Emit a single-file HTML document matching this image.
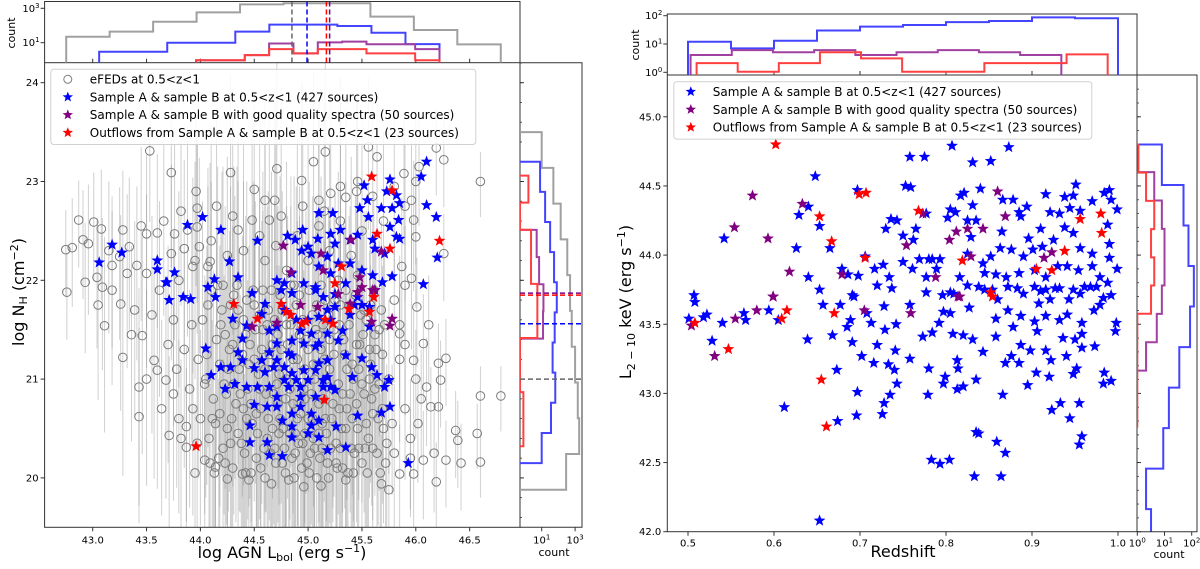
<!DOCTYPE html>
<html><head><meta charset="utf-8"><style>
body{margin:0;background:#fff}
svg{display:block;font-family:"DejaVu Sans","Liberation Sans",sans-serif}
</style></head><body>
<svg id="fig" width="1200" height="569" viewBox="0 0 1200 569" xmlns="http://www.w3.org/2000/svg">
<g id="g-left"></g>
<g id="g-right"></g>
</svg>
<script>
// ===== LEFT PANEL DATA =====
const grayPts = [
[44.02,21.6,1.2],[44.05,21.0,1.0],[44.08,20.4,0.9],[44.1,21.9,1.1],[44.12,20.8,1.3],[44.15,21.4,1.0],[44.17,20.2,0.8],[44.2,21.7,1.4],[44.22,20.95,1.1],[44.25,20.5,0.9],[44.27,21.3,1.2],[44.3,20.1,0.7],[44.31,21.85,1.3],[44.33,20.75,1.0],[44.36,21.1,1.2],[44.38,20.35,0.9],[44.4,21.6,1.4],[44.42,20.05,0.8],[44.44,20.9,1.1],[44.46,21.35,1.3],[44.48,20.55,1.0],[44.5,21.75,1.2],[44.52,20.2,0.9],[44.54,21.05,1.3],[44.56,20.7,1.0],[44.58,21.5,1.2],[44.6,20.0,0.8],[44.62,20.4,1.0],[44.64,21.25,1.4],[44.66,21.9,1.2],[44.68,20.85,1.1],[44.7,20.15,0.9],[44.72,21.45,1.3],[44.74,20.6,1.0],[44.76,21.7,1.2],[44.78,20.3,0.8],[44.8,21.0,1.3],[44.82,19.98,0.7],[44.84,21.55,1.2],[44.86,20.75,1.1],[44.88,20.45,1.0],[44.9,21.2,1.4],[44.92,21.85,1.1],[44.94,20.1,0.8],[44.96,20.9,1.2],[44.98,21.4,1.3],[45.0,20.6,1.0],[45.02,20.25,0.9],[45.04,21.65,1.2],[45.06,21.0,1.3],[45.08,20.0,0.8],[45.1,20.45,1.0],[45.12,21.3,1.2],[45.14,20.8,1.1],[45.16,21.8,1.0],[45.18,20.15,0.9],[45.2,21.1,1.3],[45.22,20.6,1.0],[45.24,21.5,1.2],[45.26,20.35,0.9],[45.28,20.95,1.1],[45.3,21.75,1.2],[45.32,20.1,0.8],[45.34,21.25,1.3],[45.36,20.7,1.0],[45.38,21.55,1.1],[45.4,20.3,0.9],[45.42,21.0,1.2],[45.44,21.85,1.0],[45.46,20.5,1.0],[45.48,21.35,1.1],[45.5,20.15,0.8],[45.52,20.85,1.0],[45.54,21.6,1.1],[45.56,20.4,0.9],[45.58,21.15,1.0],[45.6,20.65,0.9],[45.62,21.45,1.0],[45.64,20.25,0.8],[45.66,20.95,0.9],[45.68,21.7,0.9],[45.7,20.5,0.8],
[44.06,21.25,1.1],[44.11,20.6,1.0],[44.16,21.95,1.2],[44.21,20.3,0.9],[44.26,21.1,1.2],[44.32,21.55,1.3],[44.37,20.85,1.0],[44.41,20.25,0.8],[44.45,21.15,1.2],[44.49,21.9,1.1],[44.53,20.45,0.9],[44.57,21.3,1.3],[44.61,20.85,1.0],[44.65,20.25,0.8],[44.69,21.6,1.2],[44.73,21.05,1.1],[44.77,20.5,0.9],[44.81,21.35,1.3],[44.85,20.2,0.8],[44.89,21.75,1.2],[44.93,20.65,1.0],[44.97,21.1,1.3],[45.01,21.9,1.1],[45.05,20.4,0.9],[45.09,21.45,1.2],[45.13,20.55,1.0],[45.17,21.0,1.2],[45.21,20.3,0.9],[45.25,21.8,1.1],[45.29,20.7,1.0],[45.33,21.4,1.2],[45.37,20.05,0.8],[45.41,21.15,1.1],[45.45,20.75,1.0],[45.49,21.65,1.1],[45.53,20.3,0.9],[45.57,21.0,1.0],[45.61,21.9,1.0],[45.65,20.6,0.9],[45.69,21.25,0.9],[45.73,20.35,0.8],[45.75,21.0,0.8],
[44.13,20.05,0.8],[44.19,21.55,1.2],[44.24,20.85,1.1],[44.29,20.6,1.0],[44.34,21.95,1.2],[44.39,21.25,1.2],[44.43,20.6,1.0],[44.47,20.05,0.8],[44.51,21.5,1.3],[44.55,20.9,1.1],[44.59,20.3,0.9],[44.63,21.7,1.2],[44.67,20.5,1.0],[44.71,20.95,1.2],[44.75,21.3,1.3],[44.79,20.05,0.8],[44.83,20.9,1.1],[44.87,21.95,1.1],[44.91,20.35,0.9],[44.95,21.6,1.2],[44.99,20.15,0.8],[45.03,20.85,1.1],[45.07,21.5,1.2],[45.11,20.2,0.9],[45.15,21.2,1.2],[45.19,21.65,1.1],[45.23,20.9,1.0],[45.27,20.1,0.8],[45.31,20.5,1.0],[45.35,21.9,1.1],[45.39,20.85,1.0],[45.43,20.25,0.9],[45.47,21.1,1.1],[45.51,21.45,1.1],[45.55,20.05,0.8],[45.59,20.8,0.9],[45.63,21.3,1.0],[45.67,20.05,0.8],
[44.04,20.95,1.1],[44.07,21.75,1.2],[44.09,20.15,0.8],[44.14,20.55,1.0],[44.18,21.15,1.2],[44.23,21.45,1.3],[44.23,20.15,0.8],[44.28,20.35,0.9],[44.28,21.75,1.2],[44.31,20.95,1.1],[44.35,20.45,1.0],[44.35,21.7,1.3],[44.4,20.7,1.0],[44.42,21.45,1.2],[44.45,19.98,0.7],[44.47,20.75,1.0],[44.5,21.2,1.2],[44.52,20.65,1.0],[44.55,21.65,1.3],[44.56,20.1,0.8],[44.6,21.1,1.2],[44.62,21.55,1.2],[44.63,20.6,1.0],[44.67,21.35,1.3],[44.69,20.3,0.9],[44.72,20.75,1.0],[44.74,21.85,1.2],[44.76,20.15,0.8],[44.79,20.8,1.1],[44.8,21.55,1.2],[44.83,20.45,1.0],[44.86,21.2,1.3],[44.87,20.0,0.8],[44.9,20.6,1.0],[44.92,21.45,1.2],[44.95,20.35,0.9],[44.97,20.8,1.1],[45.0,21.3,1.2],[45.01,20.05,0.8],[45.04,20.6,1.0],[45.05,21.15,1.2],[45.08,21.75,1.1],[45.1,20.75,1.0],[45.13,20.3,0.9],[45.14,21.55,1.2],[45.17,20.45,1.0],[45.19,20.0,0.8],[45.2,21.4,1.2],[45.23,20.75,1.0],[45.24,21.25,1.2],[45.26,20.15,0.8],[45.29,21.55,1.1],[45.3,20.3,0.9],[45.32,20.85,1.0],[45.35,20.5,1.0],[45.36,21.1,1.1],[45.39,21.75,1.0],[45.41,20.6,1.0],[45.42,20.05,0.8],[45.45,21.35,1.1],[45.47,20.3,0.9],[45.5,20.95,1.0],[45.52,21.7,1.0],[45.54,20.55,0.9],[45.57,21.3,1.0],[45.6,20.3,0.8],[45.62,20.9,0.9],[45.66,21.5,0.9],[45.69,20.7,0.8],[45.71,21.55,0.8],[45.72,20.15,0.8],[44.18,20.65,1.0],[44.21,21.95,1.2],[44.3,21.35,1.2],[44.43,21.8,1.2],[44.58,21.9,1.2],[44.84,21.95,1.1],[45.12,21.95,1.1],[45.28,22.0,1.1],[45.46,22.05,1.0],[45.58,21.75,0.9],[44.97,20.45,0.9],[44.73,20.45,0.9],[44.88,20.25,0.8],[45.06,20.3,0.9],[45.16,20.6,1.0],
[44.6,22.2,1.2],[44.7,22.35,1.3],[44.8,22.1,1.1],[44.9,22.45,1.2],[45.0,22.2,1.3],[45.1,22.55,1.2],[45.2,22.3,1.1],[45.3,22.6,1.2],[45.4,22.25,1.0],[45.5,22.5,1.1],[45.6,22.85,1.0],[45.7,22.6,0.9],[45.8,22.95,0.8],[45.9,22.75,0.8],[46.0,23.0,0.7],[45.45,22.9,1.0],[45.3,22.95,1.1],[45.15,22.7,1.2],[44.95,22.75,1.2],[44.75,22.65,1.3],[44.55,22.45,1.2],[44.4,22.3,1.1],[44.25,22.25,1.0],[44.1,22.4,1.0],[43.95,22.2,1.0],[43.8,22.0,0.9],[43.75,21.6,0.9],[43.85,21.3,1.0],[43.9,20.9,1.0],[43.8,20.6,0.8],[43.95,20.05,0.7],[44.0,20.6,0.9],[45.8,21.8,0.7],[45.85,21.2,0.7],[45.9,20.7,0.6],[45.95,20.4,0.6],[45.8,20.25,0.7],[45.85,21.55,0.7],[46.05,20.8,0.5],[46.0,21.0,0.5],
[43.53,23.31,0.6],[43.73,23.09,0.8],[44.28,23.09,1.0],[44.71,23.13,1.1],[44.94,23.01,1.0],[45.05,23.2,0.9],[45.16,23.3,0.9],[45.56,23.35,0.7],[45.64,23.25,0.7],[45.89,23.08,0.6],[46.03,23.15,0.5],[46.19,23.34,0.4],[46.26,23.22,0.4],[46.6,23.0,0.3],[45.96,22.81,0.6],[43.96,22.9,0.8],[43.97,22.73,0.8],[44.5,22.92,1.0],[44.6,22.81,1.0],[44.69,22.81,1.1],[45.1,22.81,1.0],[45.21,22.88,1.0],[45.35,22.84,0.9],[45.46,23.0,0.9],[42.87,22.61,0.4],[43.01,22.59,0.5],[42.91,22.41,0.5],[42.75,22.31,0.4],[42.81,22.33,0.5],[42.96,22.37,0.6],[43.08,22.52,0.6],[43.28,22.51,0.6],[43.25,22.24,0.7],[43.18,22.15,0.7],[43.34,22.34,0.7],[43.41,22.15,0.8],[43.5,22.47,0.8],[43.6,22.48,0.8],[43.76,22.47,0.9],[43.88,22.51,0.9],[43.97,22.54,0.9],[43.99,22.34,0.9],[44.09,22.19,1.0],[43.85,22.32,0.9],[43.73,22.27,0.9],[43.93,22.14,0.9],[44.07,22.14,1.0],[44.35,22.51,1.0],[44.48,22.61,1.1],[44.64,22.61,1.1],[45.98,22.61,0.6],[46.0,22.44,0.6],[45.87,22.14,0.7],[45.96,22.02,0.6],[46.26,22.27,0.4],[42.93,21.98,0.6],[43.09,21.93,0.7],[42.76,21.88,0.4],[43.04,22.03,0.6],[43.32,22.07,0.8],[43.5,22.07,0.8],
[43.05,21.75,0.8],[43.11,21.54,0.9],[43.28,21.22,1.0],[43.18,21.9,0.8],[43.26,21.76,0.9],[43.39,21.7,0.9],[43.46,21.44,1.0],[43.57,21.19,1.0],[43.55,21.65,1.0],[43.6,21.09,1.0],[43.43,20.92,1.0],[43.68,20.99,1.0],[43.43,20.62,0.9],[43.64,20.7,0.9],[43.75,20.85,0.9],[43.71,20.43,0.8],[43.87,20.52,0.8],[43.87,20.31,0.8],[44.04,20.18,0.7],[44.14,20.11,0.7],[44.25,19.99,0.6],[44.39,20.04,0.6],[44.66,19.94,0.5],[44.96,19.91,0.5],[45.12,19.92,0.5],[45.35,19.98,0.5],[45.68,19.94,0.5],[45.75,19.88,0.5],[45.85,20.04,0.5],[45.98,20.04,0.5],[46.19,19.96,0.4],[46.07,20.18,0.5],[46.17,20.25,0.5],[46.28,20.18,0.4],[46.42,20.15,0.4],[46.37,20.48,0.4],[46.39,20.38,0.4],[46.57,20.45,0.3],[46.6,20.16,0.3],[46.6,20.83,0.3],[46.79,20.83,0.3],[46.21,20.72,0.4],[46.14,20.72,0.4],[46.28,21.21,0.4],[46.21,21.16,0.4],[46.23,20.99,0.4],[46.1,20.92,0.5],[46.07,21.36,0.5],[46.01,21.73,0.5],[45.98,21.19,0.5],[45.85,21.46,0.6],
[43.62,21.9,0.9],[43.7,21.35,1.0],[43.78,21.1,1.0],[43.92,21.55,1.0],[43.98,21.2,1.0],[43.93,20.7,0.9],[43.82,20.4,0.8],[43.97,20.35,0.8],[43.5,21.0,0.9],[43.36,21.45,0.9],[43.15,22.3,0.7],[43.45,22.55,0.8],[43.66,22.6,0.8],[43.82,22.7,0.8],[44.15,22.75,1.0],[44.3,22.65,1.0],[45.9,21.95,0.6],[46.12,21.55,0.5],[45.95,20.2,0.5],[45.9,21.35,0.6],[45.78,20.55,0.6],[46.02,20.55,0.5]
];
const blueL = [
[43.06,22.18],[43.18,22.36],[43.27,22.28],[43.6,22.2],[43.6,22.11],[43.76,22.08],[43.69,21.98],[43.88,22.56],[44.02,22.64],[44.19,22.51],[44.27,22.19],[44.35,22.03],[44.13,22.01],[44.07,21.93],[44.53,22.4],[44.81,22.45],[44.88,22.41],[44.95,22.51],[45.1,22.68],[45.23,22.68],[45.3,22.51],[45.21,22.47],[45.09,22.42],[45.0,22.34],[44.94,22.3],[45.03,22.27],[45.25,22.37],[45.39,22.41],[45.46,22.46],[45.48,22.73],[45.56,22.64],[45.55,22.81],[45.52,22.96],[45.76,23.02],[45.73,22.9],[45.82,22.86],[45.85,22.78],[45.68,22.73],[45.78,22.73],[45.84,22.61],[45.76,22.54],[45.82,22.44],[45.85,22.42],[45.6,22.41],[45.62,22.32],[45.71,22.27],[46.1,23.2],[46.05,23.05],[46.1,22.76],[46.19,22.64],[46.2,22.23],[46.07,21.96],[45.78,22.04],[45.69,21.98],[45.6,22.05],[45.5,22.1],[45.39,22.17],[45.28,22.17],[45.18,22.24],[45.1,22.14],[45.21,22.07],[45.35,21.97],[44.85,22.07],[44.78,21.97],[44.71,22.0],[44.96,21.97],[45.07,21.93],[45.25,21.86],
[43.68,21.98],[43.71,21.8],[43.84,21.83],[43.91,21.81],[44.07,21.93],[44.14,21.83],[44.05,21.31],[44.1,21.04],[44.19,21.12],[44.28,21.12],[44.23,20.9],[44.3,21.61],[44.43,21.54],[44.48,21.87],[44.57,21.66],[44.6,21.76],[44.64,21.49],[44.39,21.41],[44.35,21.27],[44.39,21.19],[44.5,21.11],[44.43,20.92],[44.32,20.95],[44.6,21.07],[44.64,20.92],[44.71,20.82],[44.62,20.72],[44.5,20.74],[44.46,20.53],[44.46,20.36],[44.62,20.36],[44.64,20.23],[44.76,20.22],[44.76,20.58],[44.85,20.52],[44.85,20.41],[45.0,20.45],[45.03,20.53],[45.1,20.41],[45.18,20.28],[45.26,20.52],[45.35,20.31],[45.46,20.63],[45.5,21.21],[45.41,21.02],[45.35,21.24],[45.28,21.39],[45.32,21.49],[45.39,21.65],[45.5,21.75],[45.57,21.53],[45.59,21.12],[45.64,21.04],[45.75,20.99],[45.71,20.92],[45.68,20.66],[45.76,20.72],[45.93,20.15],[44.53,20.92],[44.71,21.19],[44.82,21.26],[44.85,21.06],[44.89,20.99],[44.93,20.92],[45.0,20.99],[45.07,21.09],[45.1,21.16],[45.18,21.19],[45.14,20.99],[45.21,20.92],[45.25,20.89],[45.07,20.82],[44.93,20.82],[44.82,20.92],[44.78,20.99],[44.71,21.36],[44.85,21.39],[44.93,21.49],[45.07,21.33],[45.1,21.36],[45.03,21.46],[45.0,21.6],[44.89,21.6],[44.78,21.7],[44.71,21.53],[44.75,21.9],[44.85,21.87],[45.07,21.9],[45.14,21.83],[45.18,21.7],[45.25,21.73],[45.43,21.75],[45.46,21.83],[45.57,21.73],[45.62,21.9],[45.1,21.63],[45.21,21.6],[45.18,21.46],[44.96,21.36],[44.85,21.24],[44.64,21.27],[44.57,21.19],[44.68,21.12],[44.78,21.12],[44.96,21.09],[45.03,20.65],[45.1,20.58],[44.93,20.72],[44.85,20.65],[44.71,20.72],[45.14,20.92],[45.18,21.02]
];
const purpleL = [[44.77,22.35],[45.12,22.27],[45.4,22.41],[45.68,22.29],[44.84,22.08],[45.14,22.1],[45.28,21.86],[45.48,22.03],[45.46,21.88],[45.6,21.9],[44.93,21.75],[45.09,21.73],[45.39,21.76],[44.71,21.57],[44.48,21.53],[45.59,21.58],[45.78,21.61],[45.76,21.54],[45.5,21.93],[45.62,21.9]];
const redL = [[45.59,23.05],[45.78,22.91],[45.64,22.47],[45.76,22.32],[46.22,22.4],[45.31,22.14],[45.25,21.97],[45.61,21.83],[44.31,21.76],[44.53,21.61],[44.75,21.76],[44.8,21.68],[44.84,21.65],[44.94,21.56],[44.98,21.58],[45.16,21.6],[45.23,21.56],[45.38,21.71],[45.57,21.68],[45.15,20.79],[43.96,20.32]];
// top histogram (L_bol) counts
const lbolGrayStart = 42.754, lbolGrayWidth = 0.4035;
const lbolGray = [22,44,165,580,1700,1950,1950,330,55,8];
const lbolBlueStart = 43.06, lbolBlueWidth = 0.316;
const lbolBlue = [3,3,10,10,44,112,112,93,38,8.3];
const lbolPRStart = 43.96, lbolPRWidth = 0.226;
const lbolPurple = [0.95,0.95,1.9,9,2.4,10.5,11.5,8.1,8.1,4.2];
const lbolRed = [0.95,0.95,1.9,4.2,2.4,4.2,4.2,2.4,2.4,0.95];
const lbolMedians = [44.85,44.99,45.20,45.17]; // gray, blue, purple, red
// side histogram (N_H) counts, bottom-up
const nhGrayStart = 19.88, nhGrayWidth = 0.362;
const nhGray = [290,1750,1450,1000,630,500,340,137,50,10];
const nhBlueStart = 20.15, nhBlueWidth = 0.305;
const nhBlue = [10,36,65,45,60,80,55,32,16,8];
const nhPurpleStart = 21.41, nhPurpleWidth = 0.275;
const nhPurple = [12,12.7,7,5];
const nhRedStart = 20.32, nhRedWidth = 0.274;
const nhRed = [0.8,0.8,0.3,0.3,5.5,5.5,2.3,2.3,0.3,1.6];
const nhMedians = [21.0,21.56,21.87,21.85]; // gray, blue, purple, red
const lbolTicks = [43.0,43.5,44.0,44.5,45.0,45.5,46.0,46.5];
const nhTicks = [20,21,22,23,24];

// ===== RIGHT PANEL DATA =====
const blueR = [
[0.507,43.71],[0.542,44.12],[0.626,44.05],[0.64,43.84],[0.629,44.29],[0.64,44.35],[0.648,44.57],[0.653,44.21],[0.653,43.75],[0.665,44.05],[0.679,43.9],[0.686,43.86],[0.698,43.85],[0.697,44.47],[0.691,43.71],[0.706,43.99],[0.717,43.9],[0.72,43.78],[0.727,43.93],[0.73,44.19],[0.734,43.84],[0.736,44.26],[0.743,44.25],[0.737,43.76],[0.75,43.95],[0.75,44.14],[0.753,44.5],[0.758,44.71],[0.759,44.49],[0.762,44.11],[0.765,44.19],[0.769,43.97],[0.761,43.9],[0.775,44.71],[0.777,44.3],[0.78,43.97],[0.777,43.84],[0.784,43.97],[0.793,43.97],[0.789,43.9],[0.802,44.27],[0.805,44.33],[0.811,44.31],[0.807,44.79],[0.817,44.43],[0.821,44.45],[0.825,44.25],[0.831,44.67],[0.831,44.36],[0.835,44.25],[0.829,44.13],[0.825,44.01],[0.84,44.48],[0.852,44.68],[0.873,44.78],[0.866,44.4],[0.865,44.17],[0.878,44.4],[0.885,44.31],[0.887,44.28],[0.894,44.35],[0.896,44.12],[0.91,44.19],[0.916,44.44],[0.921,44.31],[0.932,44.3],[0.938,44.42],[0.948,44.43],[0.951,44.51],[0.944,44.34],[0.956,44.32],[0.97,44.39],[0.984,44.45],[0.99,44.47],[0.992,44.4],[0.999,44.33],[0.988,44.22],[0.99,44.08],[0.99,43.98],[0.999,43.9],[0.97,44.01],[0.956,44.05],[0.948,44.16],[0.938,44.2],[0.925,44.11],[0.912,44.06],[0.901,44.04],[0.89,43.99],[0.876,44.04],[0.863,44.05],[0.852,43.99],[0.843,43.94],[0.845,43.87],[0.858,43.86],[0.87,43.84],[0.885,43.87],[0.903,43.89],[0.916,43.84],[0.93,43.92],[0.941,43.92],[0.954,43.89],[0.97,43.92],[0.979,43.84],[0.961,43.77],[0.948,43.75],[0.932,43.76],[0.916,43.75],[0.903,43.77],[0.89,43.72],[0.872,43.77],[0.854,43.75],[0.838,43.77],[0.825,43.78],[0.816,43.84],[0.805,43.73],[0.796,43.71],[0.975,43.77],[0.988,43.8],
[0.508,43.66],[0.501,43.54],[0.518,43.55],[0.522,43.57],[0.54,43.51],[0.528,43.38],[0.565,43.58],[0.567,43.53],[0.594,43.6],[0.605,43.53],[0.612,42.9],[0.639,43.39],[0.653,42.08],[0.657,43.64],[0.668,43.42],[0.673,43.17],[0.674,42.8],[0.677,43.64],[0.685,43.48],[0.689,43.53],[0.691,43.37],[0.693,43.7],[0.697,43.01],[0.696,42.84],[0.702,43.27],[0.708,43.58],[0.713,43.51],[0.716,43.22],[0.72,43.35],[0.728,43.63],[0.729,43.46],[0.733,43.21],[0.735,42.99],[0.728,42.93],[0.726,42.85],[0.74,43.17],[0.741,43.31],[0.743,43.07],[0.742,43.5],[0.758,43.64],[0.758,43.25],[0.773,43.41],[0.777,43.73],[0.78,43.18],[0.779,42.99],[0.783,42.52],[0.793,42.49],[0.804,42.52],[0.784,43.44],[0.792,43.51],[0.797,43.59],[0.799,43.12],[0.797,43.07],[0.805,43.58],[0.808,43.43],[0.814,43.18],[0.813,43.24],[0.813,43.03],[0.82,43.05],[0.82,43.42],[0.831,43.39],[0.833,42.4],[0.835,42.72],[0.838,42.71],[0.835,43.1],[0.843,43.3],[0.858,43.54],[0.858,43.41],[0.864,42.4],[0.866,42.99],[0.859,42.65],[0.869,42.57],[0.869,43.22],[0.876,43.27],[0.878,43.48],[0.885,43.22],[0.887,43.35],[0.895,43.06],[0.898,43.31],[0.903,43.52],[0.906,43.45],[0.905,43.15],[0.916,43.31],[0.92,43.12],[0.922,43.24],[0.923,42.88],[0.933,42.93],[0.936,43.4],[0.94,43.27],[0.944,42.82],[0.948,43.14],[0.952,43.18],[0.955,42.63],[0.958,42.69],[0.955,42.93],[0.95,43.39],[0.958,43.43],[0.958,43.33],[0.958,43.51],[0.973,43.34],[0.983,43.07],[0.984,43.15],[0.992,43.09],[0.997,43.45],[0.998,43.51],[0.979,43.64],[0.972,43.6],[0.983,43.69],[0.992,43.71],[0.932,43.53],[0.941,43.57],[0.916,43.56],[0.921,43.68],[0.908,43.65],[0.887,43.56],[0.872,43.6],[0.86,43.68],[0.845,43.75],[0.827,43.62],[0.809,43.72],[0.943,43.68],[0.956,43.72],[0.968,43.77],[0.927,43.76],[0.91,43.74],[0.883,43.76]
];
const purpleR = [[0.575,44.43],[0.554,44.2],[0.593,44.12],[0.633,44.37],[0.618,43.88],[0.599,43.7],[0.679,43.86],[0.754,44.07],[0.773,44.3],[0.788,43.84],[0.804,44.11],[0.812,44.17],[0.825,44.19],[0.829,43.99],[0.843,44.19],[0.86,44.46],[0.869,44.28],[0.914,43.98],[0.923,44.02],[0.814,43.7],[0.504,43.49],[0.531,43.27],[0.555,43.54],[0.58,43.6],[0.599,43.7],[0.705,43.6],[0.759,43.58],[0.816,43.7]];
const redR = [[0.602,44.8],[0.653,44.28],[0.667,44.1],[0.699,44.44],[0.707,44.45],[0.706,43.98],[0.768,44.32],[0.819,43.96],[0.852,43.73],[0.905,43.9],[0.923,43.89],[0.938,44.03],[0.956,44.26],[0.98,44.3],[0.981,44.16],[0.508,43.51],[0.547,43.32],[0.609,43.54],[0.615,43.6],[0.67,43.58],[0.655,43.1],[0.661,42.76],[0.854,43.7]];
const zBlueStart = 0.5, zBlueWidth = 0.05;
const zBlue = [12,7,13,30,41,47,59,65,87,81];
const zPurpleStart = 0.503, zPurpleWidth = 0.0479;
const zPurple = [4.1,6.1,5.1,6.1,4.1,5.1,6.1,5.1,4.1];
const zRedStart = 0.51, zRedWidth = 0.0478;
const zRed = [2.1,1.05,2.1,5.1,3.1,1.05,1.05,2.1,2.1,4.3];
const lxBlueStart = 41.87, lxBlueWidth = 0.293;
const lxBlue = [3.2,2.1,9,14.5,35,87,120,76,50,8];
const lxPurpleStart = 43.165, lxPurpleWidth = 0.205;
const lxPurple = [2.1,5.2,8,10,10,8,4.2];
const lxRedStart = 42.76, lxRedWidth = 0.204;
const lxRed = [1,1,1,1,3.2,4.2,3.2,4.2,2.1,1.1];
const zTicks = [0.5,0.6,0.7,0.8,0.9,1.0];
const lxTicks = [42.0,42.5,43.0,43.5,44.0,44.5,45.0];

// ===== helpers =====
const NS = "http://www.w3.org/2000/svg";
function el(tag, attrs, parent){ const e=document.createElementNS(NS,tag); for(const k in attrs) e.setAttribute(k,attrs[k]); parent.appendChild(e); return e; }
function txt(s, attrs, parent){ const e=el('text',attrs,parent); e.textContent=s; return e; }
function starPath(cx,cy,R){ const r=R*0.42; let d=''; for(let i=0;i<10;i++){ const a=-Math.PI/2+i*Math.PI/5; const rr=i%2?r:R; d+=(i?'L':'M')+(cx+rr*Math.cos(a)).toFixed(1)+' '+(cy+rr*Math.sin(a)).toFixed(1);} return d+'Z'; }
const L = document.getElementById('g-left'), R = document.getElementById('g-right');

// ===== LEFT scales =====
const lx = v => 92.7 + (v-43)*107.7;
const ly = v => 82.7 - (v-24)*98.8;
const lTopY = c => 42.7 - (Math.log10(c)-1)*17.2;
const lSideX = c => 541.7 + (Math.log10(c)-1)*16.7;
const LM = {x0:44.6,x1:520,y0:62.7,y1:527.3};
el('clipPath',{id:'clipL'},L); el('rect',{x:LM.x0,y:LM.y0,width:LM.x1-LM.x0,height:LM.y1-LM.y0},document.getElementById('clipL'));
const lPlot = el('g',{'clip-path':'url(#clipL)'},L);
 
const eb = el('g',{stroke:'#8a8a8a','stroke-opacity':'0.4','stroke-width':'1'},lPlot);
 
grayPts.forEach(p=>{ const ln=el('line',{x1:lx(p[0]),x2:lx(p[0]),y1:ly(p[1]+p[2]),y2:ly(p[1]-p[2]*1.2)},eb);
   });
const gc = el('g',{fill:'none',stroke:'#7a7a7a','stroke-width':'1'},lPlot);
grayPts.forEach(p=>{ const c=el('circle',{cx:lx(p[0]),cy:ly(p[1]),r:4.3},gc);
   });
function stars(arr, fx, fy, col, g, nm){ arr.forEach(p=>{ const s=el('path',{d:starPath(fx(p[0]),fy(p[1]),6.2),fill:col},g);
   }); }
stars(blueL,lx,ly,'#0000ff',lPlot,'sample-star');
stars(purpleL,lx,ly,'#800080',lPlot,'good-spectra-star');
stars(redL,lx,ly,'#ff0000',lPlot,'outflow-star');
el('rect',{x:LM.x0,y:LM.y0,width:LM.x1-LM.x0,height:LM.y1-LM.y0,fill:'none',stroke:'#333','stroke-width':'1'},L);
lbolTicks.forEach(v=>{ el('line',{x1:lx(v),x2:lx(v),y1:LM.y1,y2:LM.y1+4,stroke:'#333'},L);
 el('line',{x1:lx(v),x2:lx(v),y1:LM.y0-4,y2:LM.y0,stroke:'#333'},L);
 const t=txt(v.toFixed(1),{x:lx(v),y:LM.y1+16,'font-size':'10','text-anchor':'middle',fill:'#000'},L);
   });
nhTicks.forEach(v=>{ el('line',{x1:LM.x0-4,x2:LM.x0,y1:ly(v),y2:ly(v),stroke:'#333'},L);
 el('line',{x1:LM.x1,x2:LM.x1+4,y1:ly(v),y2:ly(v),stroke:'#333'},L);
 const t=txt(String(v),{x:LM.x0-6,y:ly(v)+3.5,'font-size':'10','text-anchor':'end'},L);
   });
for(let v=19.6; v<24.2; v+=0.2){ el('line',{x1:LM.x1,x2:LM.x1+2,y1:ly(v),y2:ly(v),stroke:'#333','stroke-width':'0.8'},L); }
const lxl=txt('',{x:282,y:558,'font-size':'16','text-anchor':'middle'},L);
lxl.innerHTML='log AGN L<tspan font-size="11" dy="3">bol</tspan><tspan dy="-3"> (erg s</tspan><tspan font-size="11" dy="-6">−1</tspan><tspan dy="6">)</tspan>';
 
const lyl=txt('',{x:0,y:0,'font-size':'16','text-anchor':'middle',transform:'translate(24,292) rotate(-90)'},L);
lyl.innerHTML='log N<tspan font-size="11" dy="3">H</tspan><tspan dy="-3"> (cm</tspan><tspan font-size="11" dy="-6">−2</tspan><tspan dy="6">)</tspan>';
 

function stepTop(counts,start,w,fx,fy,base,col,g,nm){ let d=''; counts.forEach((c,i)=>{ const x0=fx(start+i*w), x1=fx(start+(i+1)*w), y=Math.min(fy(c),base);
 d+=(i?'L':'M'+x0+' '+base+'L')+x0+' '+y+'L'+x1+' '+y; }); d+='L'+fx(start+counts.length*w)+' '+base;
 const p=el('path',{d:d,fill:'none',stroke:col,'stroke-width':'2'},g);   }
function stepSide(counts,start,w,fx,fy,base,col,g,nm){ let d=''; counts.forEach((c,i)=>{ const y0=fy(start+i*w), y1=fy(start+(i+1)*w), x=Math.max(fx(c),base);
 d+=(i?'L':'M'+base+' '+y0+'L')+x+' '+y0+'L'+x+' '+y1; }); d+='L'+base+' '+fy(start+counts.length*w);
 const p=el('path',{d:d,fill:'none',stroke:col,'stroke-width':'2'},g);   }
const LT = el('g',{},L);  
el('clipPath',{id:'clipLT'},L); el('rect',{x:LM.x0,y:1.5,width:LM.x1-LM.x0,height:LM.y0-1.5},document.getElementById('clipLT'));
LT.setAttribute('clip-path','url(#clipLT)');
stepTop(lbolGray,lbolGrayStart,lbolGrayWidth,lx,lTopY,LM.y0,'#a0a0a0',LT,'hist-gray');
stepTop(lbolBlue,lbolBlueStart,lbolBlueWidth,lx,lTopY,LM.y0,'#4444ff',LT,'hist-blue');
stepTop(lbolPurple,lbolPRStart,lbolPRWidth,lx,lTopY,LM.y0,'#a040a0',LT,'hist-purple');
stepTop(lbolRed,lbolPRStart,lbolPRWidth,lx,lTopY,LM.y0,'#ff4040',LT,'hist-red');
const medCols=['#666','#0000ff','#800080','#ff0000'];
lbolMedians.forEach((m,i)=>{ const l=el('line',{x1:lx(m),x2:lx(m),y1:1.5,y2:LM.y0,stroke:medCols[i],'stroke-width':'1.5','stroke-dasharray':'5,3'},LT);
   });
el('path',{d:`M${LM.x0} ${LM.y0}V1.5H${LM.x1}V${LM.y0}`,fill:'none',stroke:'#333'},L);
[[1000,'3'],[10,'1']].forEach(([c,e])=>{ el('line',{x1:LM.x0-4,x2:LM.x0,y1:lTopY(c),y2:lTopY(c),stroke:'#333'},L);
 const t=txt('',{x:LM.x0-5,y:lTopY(c)+3.5,'font-size':'10','text-anchor':'end'},L); t.innerHTML='10<tspan font-size="7" dy="-4">'+e+'</tspan>';
   });
const lc1=txt('count',{x:0,y:0,'font-size':'11','text-anchor':'middle',transform:'translate(15,33) rotate(-90)'},L);
 

const LS = el('g',{},L);  
el('clipPath',{id:'clipLS'},L); el('rect',{x:LM.x1,y:LM.y0,width:62,height:LM.y1-LM.y0},document.getElementById('clipLS'));
LS.setAttribute('clip-path','url(#clipLS)');
stepSide(nhGray,nhGrayStart,nhGrayWidth,lSideX,ly,LM.x1,'#a0a0a0',LS,'hist-gray');
stepSide(nhBlue,nhBlueStart,nhBlueWidth,lSideX,ly,LM.x1,'#4444ff',LS,'hist-blue');
stepSide(nhPurple,nhPurpleStart,nhPurpleWidth,lSideX,ly,LM.x1,'#a040a0',LS,'hist-purple');
stepSide(nhRed,nhRedStart,nhRedWidth,lSideX,ly,LM.x1,'#ff4040',LS,'hist-red');
nhMedians.forEach((m,i)=>{ const l=el('line',{x1:LM.x1,x2:582,y1:ly(m),y2:ly(m),stroke:medCols[i],'stroke-width':'1.5','stroke-dasharray':'5,3'},LS);
   });
el('path',{d:`M${LM.x1} ${LM.y0}H582V${LM.y1}H${LM.x1}`,fill:'none',stroke:'#333'},L);
[[10,'1'],[1000,'3']].forEach(([c,e])=>{ el('line',{x1:lSideX(c),x2:lSideX(c),y1:LM.y1,y2:LM.y1+4,stroke:'#333'},L);
 const t=txt('',{x:lSideX(c),y:LM.y1+16,'font-size':'10','text-anchor':'middle'},L); t.innerHTML='10<tspan font-size="7" dy="-4">'+e+'</tspan>';
   });
const lc2=txt('count',{x:554,y:556,'font-size':'11','text-anchor':'middle'},L);
 

function legend(g,x,y,w,rows,hasCircle,nm){ const lg=el('g',{},g);  
 el('rect',{x:x,y:y,width:w,height:rows.length*17.8+4,rx:3,fill:'#fff','fill-opacity':'0.85',stroke:'#d0d0d0'},lg);
 rows.forEach((r,i)=>{ const cy=y+10+i*17.8; const item=el('g',{},lg);
   
  if(r[0]==='circle') el('circle',{cx:x+17,cy:cy,r:4,fill:'none',stroke:'#7f7f7f'},item);
  else el('path',{d:starPath(x+17,cy,5.5),fill:r[0]},item);
  txt(r[1],{x:x+39,y:cy+4.3,'font-size':'12'},item); }); }
legend(L,50.8,69.3,425,[['circle','eFEDs at 0.5<z<1'],['#0000ff','Sample A & sample B at 0.5<z<1 (427 sources)'],['#800080','Sample A & sample B with good quality spectra (50 sources)'],['#ff0000','Outflows from Sample A & sample B at 0.5<z<1 (23 sources)']],true,'legend-left');

// ===== RIGHT scales =====
const rx = v => 688 + (v-0.5)*860;
const ry = v => 531.7 - (v-42)*138.3;
const rTopY = c => 15.7 - (Math.log10(c)-2)*28.3;
const rSideX = c => 1137.3 + Math.log10(c)*27.2;
const RM = {x0:667.3,x1:1137,y0:75,y1:531.7};
el('clipPath',{id:'clipR'},R); el('rect',{x:RM.x0,y:RM.y0,width:RM.x1-RM.x0,height:RM.y1-RM.y0},document.getElementById('clipR'));
const rPlot = el('g',{'clip-path':'url(#clipR)'},R);
 
stars(blueR,rx,ry,'#0000ff',rPlot,'sample-star');
stars(purpleR,rx,ry,'#800080',rPlot,'good-spectra-star');
stars(redR,rx,ry,'#ff0000',rPlot,'outflow-star');
el('rect',{x:RM.x0,y:RM.y0,width:RM.x1-RM.x0,height:RM.y1-RM.y0,fill:'none',stroke:'#333'},R);
zTicks.forEach(v=>{ el('line',{x1:rx(v),x2:rx(v),y1:RM.y1,y2:RM.y1+4,stroke:'#333'},R);
 el('line',{x1:rx(v),x2:rx(v),y1:RM.y0-4,y2:RM.y0,stroke:'#333'},R);
 const t=txt(v.toFixed(1),{x:rx(v),y:RM.y1+15,'font-size':'10','text-anchor':'middle'},R);
   });
lxTicks.forEach(v=>{ el('line',{x1:RM.x0-4,x2:RM.x0,y1:ry(v),y2:ry(v),stroke:'#333'},R);
 el('line',{x1:RM.x1,x2:RM.x1+4,y1:ry(v),y2:ry(v),stroke:'#333'},R);
 const t=txt(v.toFixed(1),{x:RM.x0-6,y:ry(v)+3.5,'font-size':'10','text-anchor':'end'},R);
   });
for(let v=42.1; v<45.3; v+=0.1){ el('line',{x1:RM.x1,x2:RM.x1+2,y1:ry(v),y2:ry(v),stroke:'#333','stroke-width':'0.8'},R); }
const rxl=txt('Redshift',{x:903,y:557,'font-size':'16','text-anchor':'middle'},R);
 
const ryl=txt('',{x:0,y:0,'font-size':'16','text-anchor':'middle',transform:'translate(631,302) rotate(-90)'},R);
ryl.innerHTML='L<tspan font-size="11" dy="4">2 − 10</tspan><tspan dy="-4"> keV (erg s</tspan><tspan font-size="11" dy="-6">−1</tspan><tspan dy="6">)</tspan>';
 

const RT = el('g',{},R);  
el('clipPath',{id:'clipRT'},R); el('rect',{x:RM.x0,y:14,width:RM.x1-RM.x0,height:61},document.getElementById('clipRT'));
RT.setAttribute('clip-path','url(#clipRT)');
stepTop(zBlue,zBlueStart,zBlueWidth,rx,rTopY,RM.y0,'#4444ff',RT,'hist-blue');
stepTop(zPurple,zPurpleStart,zPurpleWidth,rx,rTopY,RM.y0,'#a040a0',RT,'hist-purple');
stepTop(zRed,zRedStart,zRedWidth,rx,rTopY,RM.y0,'#ff4040',RT,'hist-red');
el('path',{d:`M${RM.x0} ${RM.y0}V14H${RM.x1}V${RM.y0}`,fill:'none',stroke:'#333'},R);
[[100,'2'],[10,'1'],[1,'0']].forEach(([c,e])=>{ el('line',{x1:RM.x0-4,x2:RM.x0,y1:rTopY(c),y2:rTopY(c),stroke:'#333'},R);
 const t=txt('',{x:RM.x0-5,y:rTopY(c)+3.5,'font-size':'10','text-anchor':'end'},R); t.innerHTML='10<tspan font-size="7" dy="-4">'+e+'</tspan>';
   });
const rc1=txt('count',{x:0,y:0,'font-size':'11','text-anchor':'middle',transform:'translate(639,45) rotate(-90)'},R);
 

const RS = el('g',{},R);  
el('clipPath',{id:'clipRS'},R); el('rect',{x:RM.x1,y:RM.y0,width:60,height:RM.y1-RM.y0},document.getElementById('clipRS'));
RS.setAttribute('clip-path','url(#clipRS)');
stepSide(lxBlue,lxBlueStart,lxBlueWidth,rSideX,ry,RM.x1,'#4444ff',RS,'hist-blue');
stepSide(lxPurple,lxPurpleStart,lxPurpleWidth,rSideX,ry,RM.x1,'#a040a0',RS,'hist-purple');
stepSide(lxRed,lxRedStart,lxRedWidth,rSideX,ry,RM.x1,'#ff4040',RS,'hist-red');
el('path',{d:`M${RM.x1} ${RM.y0}H1197V${RM.y1}H${RM.x1}`,fill:'none',stroke:'#333'},R);
[[1,'0'],[10,'1'],[100,'2']].forEach(([c,e])=>{ el('line',{x1:rSideX(c),x2:rSideX(c),y1:RM.y1,y2:RM.y1+4,stroke:'#333'},R);
 const t=txt('',{x:rSideX(c),y:RM.y1+15,'font-size':'10','text-anchor':'middle'},R); t.innerHTML='10<tspan font-size="7" dy="-4">'+e+'</tspan>';
   });
const rc2=txt('count',{x:1169,y:558,'font-size':'11','text-anchor':'middle'},R);
 

legend(R,673.8,81.7,418,[['#0000ff','Sample A & sample B at 0.5<z<1 (427 sources)'],['#800080','Sample A & sample B with good quality spectra (50 sources)'],['#ff0000','Outflows from Sample A & sample B at 0.5<z<1 (23 sources)']],false,'legend-right');
</script>
</body></html>
